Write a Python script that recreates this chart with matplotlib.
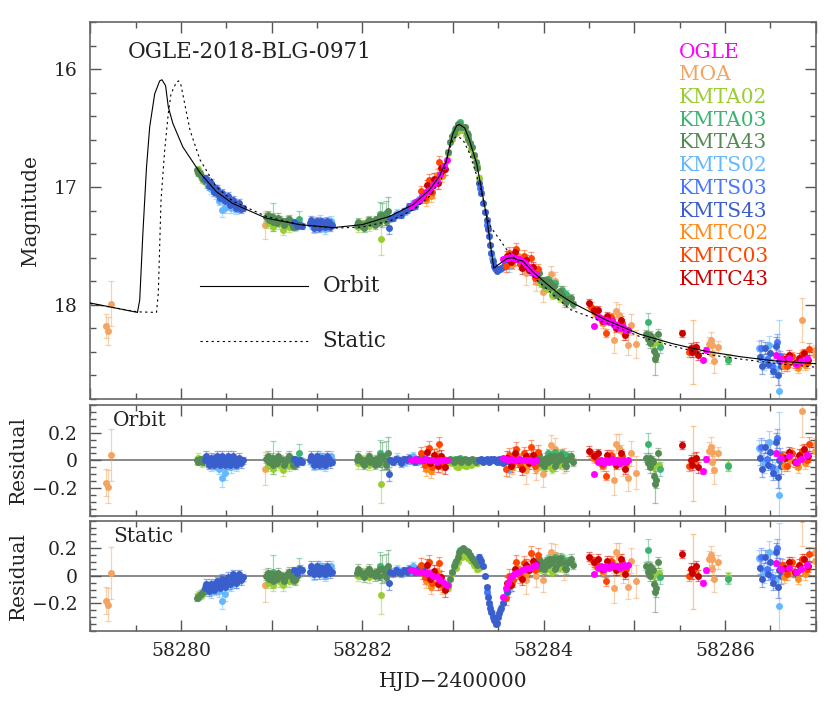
import matplotlib
matplotlib.use("Agg")
import matplotlib.pyplot as plt
from matplotlib.ticker import MultipleLocator, FixedLocator, FuncFormatter
from matplotlib.colors import to_rgba

plt.rcParams["font.family"] = "DejaVu Serif"

# model curves
orbit_t = [58279.00, 58279.52, 58279.545, 58279.58, 58279.62, 58279.655, 58279.71, 58279.765,
           58279.79, 58279.83, 58279.86, 58279.91, 58280.02, 58280.21, 58280.39, 58280.57,
           58280.94, 58281.31, 58281.68, 58282.00, 58282.30, 58282.56, 58282.74, 58282.85,
           58282.93, 58282.96, 58283.00, 58283.04, 58283.07, 58283.13, 58283.18, 58283.26,
           58283.31, 58283.37, 58283.42, 58283.45, 58283.50, 58283.59, 58283.64, 58283.77,
           58283.88, 58284.03, 58284.18, 58284.32, 58284.69, 58285.06, 58285.42, 58285.79,
           58286.16, 58286.53, 58287.00]
orbit_mag = [17.985, 18.065, 17.96, 17.39, 16.83, 16.49, 16.21, 16.10,
             16.09, 16.14, 16.32, 16.46, 16.66, 16.88, 17.04, 17.14,
             17.265, 17.32, 17.345, 17.32, 17.25, 17.15, 17.025, 16.91,
             16.77, 16.66, 16.545, 16.48, 16.47, 16.50, 16.60, 16.80,
             17.00, 17.25, 17.53, 17.69, 17.66, 17.61, 17.60, 17.63,
             17.72, 17.82, 17.915, 17.985, 18.13, 18.25, 18.33, 18.395,
             18.44, 18.475, 18.50]

static_t = [58279.00, 58279.52, 58279.73, 58279.75, 58279.78, 58279.82, 58279.86, 58279.89,
            58279.95, 58279.975, 58280.00, 58280.04, 58280.10, 58280.21, 58280.39, 58280.57,
            58280.94, 58281.31, 58281.68, 58282.00, 58282.30, 58282.56, 58282.74, 58282.89,
            58282.94, 58283.00, 58283.05, 58283.11, 58283.18, 58283.26, 58283.33, 58283.38,
            58283.41, 58283.46, 58283.51, 58283.58, 58283.66, 58283.88, 58284.29, 58284.69,
            58285.06, 58285.42, 58285.79, 58286.16, 58286.53, 58287.00]
static_mag = [17.99, 18.06, 18.065, 17.90, 17.11, 16.69, 16.375, 16.21,
              16.11, 16.10, 16.135, 16.29, 16.52, 16.77, 17.00, 17.12,
              17.25, 17.32, 17.35, 17.34, 17.29, 17.195, 17.08, 16.91,
              16.73, 16.59, 16.57, 16.60, 16.71, 16.90, 17.10, 17.26,
              17.33, 17.39, 17.44, 17.52, 17.59, 17.76, 18.04, 18.155,
              18.27, 18.35, 18.42, 18.46, 18.495, 18.53]

# ---- data: time, magnitude, error, orbit residual, static residual ----
ogle_t = [58282.54, 58282.58, 58282.62, 58282.66, 58282.70, 58282.74, 58282.78, 58282.82,
          58282.86, 58282.90, 58282.93,
          58283.55, 58283.58, 58283.61, 58283.64, 58283.67, 58283.70, 58283.73, 58283.76,
          58283.79, 58283.82, 58283.85, 58283.88, 58283.91,
          58284.56, 58284.60, 58284.63, 58284.66, 58284.69, 58284.72, 58284.75, 58284.78,
          58284.81, 58284.84, 58284.87, 58284.90, 58284.93,
          58285.76, 58285.79,
          58286.56, 58286.62, 58286.71, 58286.78, 58286.84, 58286.90]
ogle_mag = [17.16, 17.13, 17.11, 17.08, 17.04, 17.025, 16.98, 16.95, 16.89, 16.82, 16.77,
            17.61, 17.605, 17.605, 17.59, 17.605, 17.61, 17.61, 17.63, 17.645, 17.67, 17.695,
            17.73, 17.74,
            18.18, 18.105, 18.11, 18.14, 18.13, 18.15, 18.14, 18.17, 18.17, 18.20, 18.19,
            18.21, 18.21,
            18.47, 18.38,
            18.43, 18.46, 18.455, 18.50, 18.48, 18.455]
ogle_err = [0.012] * 37 + [0.02] * 8
ogle_ro = [0.0, 0.01, 0.0, 0.0, 0.01, 0.0, 0.0, -0.01, 0.0, 0.0, 0.0,
           0.02, 0.01, 0.0, 0.01, 0.0, 0.0, 0.01, 0.0, 0.0, 0.0, 0.0, -0.01, 0.0,
           -0.10, -0.01, 0.0, -0.02, 0.0, -0.01, 0.01, -0.01, 0.0, -0.02, 0.0, -0.01, 0.0,
           -0.08, 0.01,
           0.05, 0.02, 0.03, -0.01, 0.01, 0.04]
ogle_rs = [0.04, 0.035, 0.03, 0.025, 0.02, 0.02, 0.0, -0.01, -0.03, -0.05, -0.07,
           -0.15, -0.09, -0.05, -0.01, 0.01, 0.02, 0.03, 0.04, 0.05, 0.055, 0.06, 0.07, 0.08,
           0.015, 0.06, 0.07, 0.05, 0.07, 0.06, 0.08, 0.07, 0.07, 0.06, 0.08, 0.07, 0.08,
           -0.05, 0.04,
           0.09, 0.05, 0.06, 0.03, 0.05, 0.08]

moa_t = [58279.17, 58279.20, 58279.23, 58280.93, 58283.81, 58283.92, 58283.99, 58284.08,
         58284.12, 58284.22, 58284.78, 58284.80, 58284.83, 58284.85, 58284.88, 58284.93,
         58284.96, 58285.02, 58285.82, 58285.84, 58285.86, 58285.86, 58285.88, 58285.92,
         58286.85, 58286.99, 58286.99]
moa_mag = [18.18, 18.22, 17.99, 17.32, 17.73, 17.805, 17.89, 17.74,
           17.80, 17.93, 18.30, 18.05, 18.09, 18.15, 18.23, 18.34,
           18.17, 18.33, 18.33, 18.30, 18.415, 18.345, 18.48, 18.36,
           18.13, 18.38, 18.43]
moa_err = [0.10, 0.12, 0.19, 0.12, 0.10, 0.08, 0.09, 0.07, 0.08, 0.09, 0.11, 0.07, 0.10, 0.08,
           0.07, 0.09, 0.09, 0.12, 0.06, 0.07, 0.08, 0.05, 0.10, 0.05, 0.19, 0.04, 0.04]
moa_ro = [-0.16, -0.19, 0.04, -0.06, -0.07, -0.06, -0.10, 0.11, 0.08, 0.00, -0.14, 0.12, 0.09,
          0.03, -0.04, -0.13, 0.05, -0.09, 0.07, 0.10, -0.01, 0.06, -0.07, 0.05, 0.36, 0.12, 0.07]
moa_rs = [-0.18, -0.21, 0.02, -0.07, -0.03, 0.00, -0.03, 0.17, 0.15, 0.06, -0.09, 0.17, 0.14,
          0.08, 0.02, -0.08, 0.11, -0.04, 0.12, 0.15, 0.05, 0.12, -0.02, 0.10, 0.41, 0.17, 0.11]

kmta02_t = [58280.19, 58280.23, 58280.26, 58280.29, 58280.33,
            58280.96, 58281.02, 58281.08, 58281.13, 58281.19, 58281.26,
            58281.95, 58282.01, 58282.07, 58282.13, 58282.21, 58282.26,
            58282.95, 58282.99, 58283.03, 58283.06, 58283.10, 58283.14, 58283.17, 58283.20,
            58283.23, 58283.26, 58283.29,
            58283.97, 58284.01, 58284.05, 58284.09, 58284.13, 58284.18,
            58285.21, 58285.27, 58286.03]
kmta02_mag = [16.85, 16.935, 16.93, 16.975, 17.005,
              17.308, 17.337, 17.316, 17.364, 17.342, 17.332,
              17.344, 17.308, 17.334, 17.29, 17.441, 17.28,
              16.71, 16.59, 16.54, 16.522, 16.513, 16.56, 16.60, 16.68, 16.735, 16.82, 16.92,
              17.82, 17.856, 17.863, 17.92, 17.903, 17.945,
              18.333, 18.327, 18.46]
kmta02_err = [0.03] * 5 + [0.04] * 6 + [0.04, 0.03, 0.04, 0.03, 0.14, 0.04] + [0.02] * 11 \
    + [0.03] * 6 + [0.04, 0.04, 0.04]
kmta02_ro = [0.02, -0.02, 0.01, -0.01, 0.0,
             -0.04, -0.06, -0.03, -0.07, -0.04, -0.02,
             -0.02, 0.01, -0.03, 0.0, -0.17, -0.02,
             -0.01, -0.02, -0.04, -0.05, -0.03, -0.04, -0.02, -0.03, -0.01, -0.02, 0.0,
             -0.04, -0.05, -0.03, -0.06, -0.02, -0.03,
             -0.05, -0.03, -0.03]
kmta02_rs = [-0.14, -0.13, -0.10, -0.10, -0.07,
             -0.05, -0.07, -0.04, -0.07, -0.04, -0.02,
             0.0, 0.03, -0.01, 0.02, -0.14, 0.0,
             -0.09, 0.02, 0.06, 0.10, 0.14, 0.15, 0.13, 0.11, 0.08, 0.05, 0.06,
             0.05, 0.04, 0.06, 0.03, 0.07, 0.06,
             0.0, 0.02, -0.01]

kmta03_t = [58281.01, 58281.30, 58282.19, 58282.26, 58283.02, 58283.08, 58283.16, 58284.05,
            58284.12, 58284.20, 58284.25, 58285.15, 58285.28, 58286.03]
kmta03_mag = [17.255, 17.27, 17.226, 17.22, 16.505, 16.45, 16.56, 17.783,
              17.817, 17.875, 17.908, 18.15, 18.36, 18.465]
kmta03_err = [0.12, 0.07, 0.10, 0.10, 0.015, 0.015, 0.015, 0.03, 0.03, 0.03, 0.03, 0.08, 0.05, 0.04]
kmta03_ro = [0.02, 0.05, 0.05, 0.04, 0.01, 0.02, 0.0, 0.05, 0.06, 0.05, 0.04, 0.12, -0.06, -0.04]
kmta03_rs = [0.03, 0.06, 0.07, 0.06, 0.09, 0.19, 0.17, 0.12, 0.14, 0.13, 0.11, 0.19, -0.01, -0.02]

kmta43_t = [58280.18, 58280.19, 58280.21, 58280.22, 58280.24, 58280.25, 58280.27, 58280.28,
            58280.30, 58280.32,
            58280.94, 58280.97, 58281.00, 58281.03, 58281.06, 58281.09, 58281.12, 58281.15,
            58281.18, 58281.21, 58281.24, 58281.28,
            58281.94, 58281.97, 58282.00, 58282.03, 58282.06, 58282.09, 58282.12, 58282.15,
            58282.18, 58282.22, 58282.25, 58282.28,
            58282.95, 58282.97, 58282.99, 58283.01, 58283.03, 58283.05, 58283.07, 58283.09,
            58283.11, 58283.13, 58283.15, 58283.17, 58283.19, 58283.21, 58283.23, 58283.25,
            58283.27,
            58283.93, 58283.96, 58283.99, 58284.02, 58284.05, 58284.08, 58284.11, 58284.14,
            58284.17, 58284.20, 58284.23, 58284.26, 58284.29, 58284.32,
            58285.13, 58285.15, 58285.17, 58285.17, 58285.19, 58285.20, 58285.22, 58285.23,
            58285.24, 58285.26,
            58280.955, 58281.015, 58281.075, 58281.135, 58281.195, 58281.255,
            58281.955, 58282.015, 58282.075, 58282.135, 58282.195, 58282.265,
            58283.945, 58284.005, 58284.065, 58284.125, 58284.185, 58284.245, 58284.305]
kmta43_mag = [16.86, 16.88, 16.885, 16.905, 16.93, 16.92, 16.95, 16.95, 16.985, 16.99,
              17.255, 17.28, 17.254, 17.279, 17.303, 17.277, 17.292, 17.306, 17.28, 17.305,
              17.339, 17.315,
              17.325, 17.312, 17.33, 17.313, 17.286, 17.309, 17.292, 17.275, 17.298, 17.239,
              17.262, 17.205,
              16.70, 16.62, 16.57, 16.54, 16.50, 16.467, 16.47, 16.487, 16.49, 16.49, 16.54,
              16.59, 16.625, 16.665, 16.725, 16.785, 16.84,
              17.743, 17.793, 17.793, 17.793, 17.843, 17.853, 17.84, 17.91, 17.91, 17.915,
              17.97, 17.955, 17.95, 17.995,
              18.245, 18.29, 18.324, 18.254, 18.278, 18.29, 18.395, 18.458, 18.43, 18.245,
              17.24, 17.30, 17.26, 17.32, 17.27, 17.33,
              17.30, 17.35, 17.28, 17.32, 17.25, 17.29,
              17.73, 17.83, 17.81, 17.91, 17.88, 17.98, 17.94]
kmta43_err = [0.025] * 10 + [0.03] * 12 \
    + [0.025, 0.025, 0.03, 0.025, 0.03, 0.025, 0.025, 0.03, 0.03, 0.10, 0.03, 0.12] \
    + [0.015] * 17 + [0.03] * 14 \
    + [0.03, 0.04, 0.04, 0.03, 0.03, 0.03, 0.05, 0.14, 0.06, 0.04] + [0.035] * 19
kmta43_ro = [0.0, -0.01, 0.01, 0.0, -0.01, 0.01, 0.0, 0.01, -0.01, 0.0,
             0.01, -0.01, 0.02, 0.0, -0.02, 0.01, 0.0, -0.01, 0.02, 0.0, -0.03, 0.0,
             0.0, 0.01, -0.01, 0.0, 0.02, -0.01, 0.0, 0.01, -0.02, 0.03, 0.0, 0.05,
             0.0, 0.01, 0.0, -0.01, 0.0, 0.01, 0.0, -0.01, 0.0, 0.01, 0.0, -0.01, 0.0, 0.01,
             0.0, -0.01, 0.0,
             0.01, -0.02, 0.0, 0.02, -0.01, 0.0, 0.03, -0.02, 0.0, 0.01, -0.03, 0.0, 0.02, -0.01,
             0.02, -0.02, -0.05, 0.02, 0.0, -0.01, -0.11, -0.17, -0.14, 0.05,
             0.03, -0.03, 0.03, -0.03, 0.03, -0.03,
             0.03, -0.03, 0.03, -0.03, 0.03, -0.03,
             0.04, -0.04, 0.03, -0.04, 0.04, -0.04, 0.03]
kmta43_rs = [-0.16, -0.15, -0.14, -0.13, -0.12, -0.11, -0.10, -0.09, -0.08, -0.07,
             0.0, -0.02, 0.01, -0.01, -0.02, 0.0, 0.0, -0.01, 0.02, 0.0, -0.03, 0.0,
             0.02, 0.03, 0.01, 0.02, 0.04, 0.01, 0.02, 0.03, 0.0, 0.05, 0.02, 0.07,
             -0.07, -0.02, 0.03, 0.07, 0.11, 0.14, 0.17, 0.19, 0.20, 0.19, 0.18, 0.17, 0.15,
             0.13, 0.11, 0.09, 0.08,
             0.08, 0.06, 0.09, 0.11, 0.08, 0.09, 0.12, 0.07, 0.09, 0.10, 0.06, 0.09, 0.11, 0.08,
             0.07, 0.03, 0.0, 0.07, 0.05, 0.04, -0.06, -0.12, -0.09, 0.10,
             0.02, -0.04, 0.02, -0.04, 0.03, -0.03,
             0.05, -0.01, 0.05, 0.0, 0.05, -0.01,
             0.12, 0.05, 0.12, 0.05, 0.13, 0.05, 0.12]

kmts02_t = [58280.30, 58280.36, 58280.42, 58280.45, 58280.48, 58280.52, 58280.58, 58280.64,
            58281.44, 58281.50, 58281.56, 58281.62,
            58282.38, 58282.47, 58282.56, 58282.63,
            58283.43, 58283.62,
            58286.37, 58286.43, 58286.49, 58286.55, 58286.59,
            58280.33, 58280.39, 58280.55, 58280.61, 58281.47, 58281.53, 58281.59, 58281.65]
kmts02_mag = [16.98, 17.005, 17.117, 17.198, 17.175, 17.137, 17.14, 17.18,
              17.33, 17.29, 17.34, 17.30,
              17.22, 17.21, 17.14, 17.11,
              17.60, 17.673,
              18.37, 18.486, 18.341, 18.546, 18.728,
              17.02, 17.06, 17.18, 17.19, 17.35, 17.28, 17.36, 17.29]
kmts02_err = [0.03, 0.03, 0.04, 0.06, 0.05, 0.04, 0.03, 0.03, 0.03, 0.03, 0.03, 0.03,
              0.03, 0.03, 0.03, 0.03, 0.02, 0.05, 0.06, 0.07, 0.08, 0.06, 0.60] + [0.04] * 8
kmts02_ro = [-0.02, 0.01, -0.06, -0.13, -0.09, -0.03, 0.0, -0.02, -0.02, 0.02, -0.03, 0.01,
             0.02, -0.01, 0.03, 0.0, 0.0, -0.07, 0.09, -0.02, 0.13, -0.07, -0.25,
             -0.04, -0.03, -0.05, -0.04, -0.03, 0.03, -0.04, 0.03]
kmts02_rs = [-0.10, -0.06, -0.11, -0.18, -0.13, -0.06, -0.02, -0.03, 0.02, 0.06, 0.02, 0.05,
             0.05, 0.03, 0.07, 0.04, -0.27, -0.10, 0.13, 0.02, 0.17, -0.03, -0.22,
             -0.12, -0.10, -0.07, -0.05, 0.01, 0.07, 0.0, 0.07]

kmts03_t = [58280.40, 58280.55, 58283.30, 58283.38, 58283.46, 58283.52, 58286.40, 58286.46,
            58286.52, 58286.57, 58286.61]
kmts03_mag = [17.045, 17.135, 17.01, 17.32, 17.69, 17.70, 18.363, 18.458, 18.524, 18.317, 18.439]
kmts03_err = [0.025, 0.025, 0.015, 0.015, 0.015, 0.015, 0.06, 0.05, 0.06, 0.07, 0.05]
kmts03_ro = [0.01, -0.01, 0.0, 0.0, 0.0, -0.01, 0.10, 0.01, -0.05, 0.16, 0.04]
kmts03_rs = [-0.06, -0.03, 0.12, -0.12, -0.33, -0.25, 0.14, 0.05, -0.01, 0.20, 0.08]

kmts43_t = [58280.26, 58280.29, 58280.32, 58280.35, 58280.38, 58280.41, 58280.44, 58280.47,
            58280.50, 58280.53, 58280.56, 58280.59, 58280.62, 58280.65, 58280.68,
            58281.25, 58281.28, 58281.31, 58281.34, 58281.42, 58281.45, 58281.48, 58281.51,
            58281.54, 58281.57, 58281.60, 58281.63, 58281.66,
            58282.29, 58282.31, 58282.34, 58282.37, 58282.40, 58282.43, 58282.46, 58282.49,
            58282.52, 58282.55, 58282.58, 58282.61, 58282.64, 58282.67,
            58283.29, 58283.31, 58283.33, 58283.35, 58283.37, 58283.39, 58283.40, 58283.41,
            58283.42, 58283.44, 58283.45, 58283.47, 58283.48, 58283.50, 58283.51, 58283.53,
            58283.55, 58283.57, 58283.59, 58283.61, 58283.63, 58283.65,
            58286.38, 58286.41, 58286.44, 58286.47, 58286.50, 58286.53, 58286.56, 58286.58,
            58286.60, 58286.62,
            58280.275, 58280.305, 58280.335, 58280.365, 58280.395, 58280.425, 58280.455,
            58280.485, 58280.515, 58280.545, 58280.575, 58280.605, 58280.635, 58280.665,
            58281.435, 58281.465, 58281.495, 58281.525, 58281.555, 58281.585, 58281.615,
            58281.645]
kmts43_mag = [16.925, 16.94, 16.988, 17.005, 17.01, 17.06, 17.068, 17.105, 17.09, 17.118,
              17.145, 17.137, 17.157, 17.177, 17.177,
              17.30, 17.335, 17.32, 17.33, 17.31, 17.30, 17.325, 17.31, 17.29, 17.32, 17.31,
              17.30, 17.325,
              17.35, 17.265, 17.265, 17.235, 17.23, 17.24, 17.20, 17.195, 17.165, 17.17, 17.16,
              17.12, 17.11, 17.07,
              16.97, 17.05, 17.14, 17.21, 17.28, 17.36, 17.42, 17.49, 17.56, 17.63, 17.675,
              17.70, 17.71, 17.70, 17.70, 17.69, 17.68, 17.655, 17.63, 17.615, 17.605, 17.60,
              18.44, 18.524, 18.367, 18.499, 18.412, 18.565, 18.347, 18.598, 18.479, 18.52,
              16.93, 16.99, 16.97, 17.04, 17.02, 17.09, 17.05, 17.12, 17.08, 17.15, 17.11,
              17.18, 17.14, 17.19,
              17.28, 17.35, 17.29, 17.35, 17.30, 17.34, 17.29, 17.34]
kmts43_err = [0.025] * 15 + [0.025] * 13 + [0.05] + [0.025] * 13 + [0.015] * 22 \
    + [0.05, 0.06, 0.05, 0.04, 0.06, 0.05, 0.07, 0.08, 0.05, 0.06] + [0.035] * 22
kmts43_ro = [0.0, 0.01, -0.01, 0.0, 0.02, -0.01, 0.0, -0.02, 0.01, 0.0, -0.01, 0.01, 0.0,
             -0.01, 0.0,
             0.01, -0.02, 0.0, -0.01, 0.0, 0.01, -0.01, 0.0, 0.02, -0.01, 0.0, 0.01, -0.01,
             -0.10, 0.0, -0.01, 0.01, 0.0, -0.02, 0.01, 0.0, 0.02, 0.0, -0.01, 0.01, 0.0, 0.02,
             0.0, 0.01, -0.01, 0.0, 0.01, 0.0, -0.01, 0.0, 0.01, 0.0, 0.01, 0.0, -0.01, 0.0,
             0.01, 0.0, -0.02, 0.0, 0.01, 0.0, -0.01, 0.0,
             0.02, -0.06, 0.10, -0.03, 0.06, -0.09, 0.13, -0.12, 0.0, -0.04,
             0.03, -0.03, 0.02, -0.03, 0.03, -0.03, 0.03, -0.03, 0.03, -0.03, 0.03, -0.03,
             0.02, -0.02,
             0.03, -0.03, 0.03, -0.03, 0.02, -0.03, 0.03, -0.02]
kmts43_rs = [-0.09, -0.085, -0.08, -0.07, -0.06, -0.06, -0.05, -0.05, -0.04, -0.03, -0.03,
             -0.02, -0.02, -0.01, -0.01,
             0.04, 0.02, 0.05, 0.04, 0.03, 0.04, 0.03, 0.04, 0.06, 0.03, 0.04, 0.05, 0.03,
             -0.05, 0.03, 0.02, 0.04, 0.03, 0.02, 0.04, 0.03, 0.05, 0.04, 0.03, 0.05, 0.04, 0.06,
             0.14, 0.11, 0.07, 0.0, -0.08, -0.15, -0.20, -0.23, -0.26, -0.30, -0.32, -0.35,
             -0.34, -0.30, -0.27, -0.23, -0.20, -0.16, -0.12, -0.08, -0.03, 0.0,
             0.06, -0.02, 0.14, 0.01, 0.10, -0.05, 0.17, -0.08, 0.04, 0.0,
             -0.06, -0.11, -0.06, -0.10, -0.04, -0.09, -0.02, -0.08, -0.01, -0.06, 0.01,
             -0.05, 0.01, -0.03,
             0.07, 0.01, 0.07, 0.01, 0.06, 0.01, 0.07, 0.02]

kmtc02_t = [58282.70, 58282.76, 58282.82, 58282.88, 58283.65, 58283.72, 58283.80, 58283.88,
            58284.55, 58284.65, 58284.75, 58284.85, 58285.65, 58286.65, 58286.72, 58286.80,
            58286.88]
kmtc02_mag = [17.11, 17.08, 16.90, 16.91, 17.65, 17.585, 17.69, 17.70,
              18.056, 18.155, 18.12, 18.203, 18.40, 18.521, 18.486, 18.54, 18.513]
kmtc02_err = [0.05] * 8 + [0.04] * 4 + [0.27] + [0.04] * 4
kmtc02_ro = [-0.06, -0.08, 0.04, -0.04, -0.05, 0.03, -0.04, 0.02,
             0.02, -0.04, 0.03, -0.02, -0.02, -0.04, 0.0, -0.05, -0.02]
kmtc02_rs = [-0.04, -0.08, 0.03, -0.08, -0.06, 0.05, 0.01, 0.09,
             0.09, 0.03, 0.10, 0.05, 0.03, -0.01, 0.03, -0.02, 0.01]

kmtc03_t = [58282.65, 58282.69, 58282.73, 58282.77, 58282.81, 58282.85, 58282.89,
            58283.58, 58283.62, 58283.66, 58283.70, 58283.74, 58283.78, 58283.82, 58283.86,
            58283.90, 58283.94,
            58284.52, 58284.58, 58284.64, 58284.69, 58284.74, 58284.80, 58284.86, 58284.91,
            58285.60, 58285.66,
            58286.63, 58286.68, 58286.74, 58286.79, 58286.85, 58286.90, 58286.93]
kmtc03_mag = [17.038, 17.09, 16.94, 17.04, 16.93, 16.79, 16.855,
              17.675, 17.563, 17.62, 17.53, 17.65, 17.585, 17.67, 17.60, 17.775, 17.70,
              18.015, 18.07, 18.14, 18.24, 18.107, 18.176, 18.156, 18.223,
              18.405, 18.37,
              18.451, 18.524, 18.437, 18.51, 18.422, 18.495, 18.377]
kmtc03_err = [0.05] * 17 + [0.035] * 8 + [0.04] * 2 + [0.04] * 6 + [0.05]
kmtc03_ro = [0.05, -0.03, 0.09, -0.05, 0.02, 0.12, -0.02,
             -0.06, 0.04, -0.02, 0.08, -0.03, 0.05, 0.0, 0.10, -0.04, 0.06,
             0.05, 0.02, -0.03, -0.11, 0.04, -0.01, 0.03, -0.02,
             -0.04, 0.01,
             0.03, -0.04, 0.05, -0.02, 0.07, 0.0, 0.12]
kmtc03_rs = [0.08, -0.01, 0.10, -0.05, 0.01, 0.09, -0.07,
             -0.16, 0.0, -0.03, 0.10, 0.0, 0.095, 0.055, 0.165, 0.04, 0.15,
             0.12, 0.09, 0.04, -0.04, 0.11, 0.06, 0.10, 0.05,
             0.0, 0.05,
             0.08, 0.01, 0.10, 0.03, 0.12, 0.05, 0.16]

kmtc43_t = [58282.67, 58282.71, 58282.75, 58282.79, 58282.83, 58282.87, 58282.91,
            58283.60, 58283.64, 58283.68, 58283.72, 58283.76, 58283.80, 58283.84, 58283.88,
            58283.92,
            58284.50, 58284.55, 58284.60, 58284.65, 58284.70, 58284.75, 58284.80, 58284.85,
            58284.90,
            58285.53, 58285.62, 58285.64, 58285.68, 58285.70,
            58286.66, 58286.71, 58286.77, 58286.82, 58286.87, 58286.91]
kmtc43_mag = [17.074, 16.985, 17.033, 16.93, 16.97, 16.84, 16.85,
              17.588, 17.64, 17.555, 17.615, 17.69, 17.62, 17.705, 17.68, 17.746,
              17.987, 18.046, 18.046, 18.135, 18.093, 18.14, 18.196, 18.133, 18.26,
              18.24, 18.365, 18.40, 18.355, 18.43,
              18.462, 18.425, 18.498, 18.45, 18.413, 18.465]
kmtc43_err = [0.045] * 16 + [0.035] * 9 + [0.03, 0.04, 0.04, 0.04, 0.04] + [0.04] * 6
kmtc43_ro = [0.0, 0.06, -0.02, 0.04, -0.04, 0.03, -0.05,
             0.02, -0.04, 0.05, 0.0, -0.06, 0.03, -0.02, 0.04, 0.0,
             0.07, 0.03, 0.05, -0.02, 0.04, 0.01, -0.03, 0.05, -0.06,
             0.11, 0.0, -0.03, 0.02, -0.05,
             0.02, 0.06, -0.01, 0.04, 0.08, 0.03]
kmtc43_rs = [0.025, 0.075, -0.02, 0.035, -0.06, -0.01, -0.105,
             -0.05, -0.065, 0.05, 0.025, -0.02, 0.08, 0.04, 0.11, 0.085,
             0.14, 0.10, 0.12, 0.05, 0.11, 0.08, 0.04, 0.12, 0.01,
             0.16, 0.05, 0.02, 0.07, 0.0,
             0.06, 0.10, 0.03, 0.08, 0.12, 0.07]

names = ["OGLE", "MOA", "KMTA02", "KMTA03", "KMTA43", "KMTS02", "KMTS03", "KMTS43",
         "KMTC02", "KMTC03", "KMTC43"]
colors = ["#FF00FF", "#F4A460", "#9ACD32", "#3CB371", "#548B54", "#63B8FF", "#4876FF",
          "#3A5FCD", "#FF8C1A", "#FF4500", "#CD0000"]

sets = {
    "OGLE": (ogle_t, ogle_mag, ogle_err, ogle_ro, ogle_rs),
    "MOA": (moa_t, moa_mag, moa_err, moa_ro, moa_rs),
    "KMTA02": (kmta02_t, kmta02_mag, kmta02_err, kmta02_ro, kmta02_rs),
    "KMTA03": (kmta03_t, kmta03_mag, kmta03_err, kmta03_ro, kmta03_rs),
    "KMTA43": (kmta43_t, kmta43_mag, kmta43_err, kmta43_ro, kmta43_rs),
    "KMTS02": (kmts02_t, kmts02_mag, kmts02_err, kmts02_ro, kmts02_rs),
    "KMTS03": (kmts03_t, kmts03_mag, kmts03_err, kmts03_ro, kmts03_rs),
    "KMTS43": (kmts43_t, kmts43_mag, kmts43_err, kmts43_ro, kmts43_rs),
    "KMTC02": (kmtc02_t, kmtc02_mag, kmtc02_err, kmtc02_ro, kmtc02_rs),
    "KMTC03": (kmtc03_t, kmtc03_mag, kmtc03_err, kmtc03_ro, kmtc03_rs),
    "KMTC43": (kmtc43_t, kmtc43_mag, kmtc43_err, kmtc43_ro, kmtc43_rs),
}
draw_order = ["MOA", "KMTA02", "KMTA03", "KMTA43", "KMTS02", "KMTS03", "KMTS43",
              "KMTC02", "KMTC03", "KMTC43", "OGLE"]

fig = plt.figure(figsize=(8.3, 7.01), dpi=100)
ax = fig.add_axes([0.1088, 0.4308, 0.874, 0.5378])
ax1 = fig.add_axes([0.1088, 0.2643, 0.874, 0.1579])
ax2 = fig.add_axes([0.1088, 0.0999, 0.874, 0.1573])


def points(a, t, y, e, c):
    a.errorbar(t, y, yerr=e, fmt="o", ms=5.0, mfc=c, mec="none",
               ecolor=to_rgba(c, 0.5), elinewidth=0.9, capsize=2.2, capthick=0.9, zorder=2)


for n in draw_order:
    c = colors[names.index(n)]
    t, m, e, ro, rs = sets[n]
    points(ax, t, m, e, c)
    points(ax1, t, ro, e, c)
    points(ax2, t, rs, e, c)

ax.plot(orbit_t, orbit_mag, color="black", lw=0.8, zorder=5)
ax.plot(static_t, static_mag, color="black", lw=0.8, ls=(0, (2, 3)), zorder=5)

# small legend for the model lines
ax.plot([58280.21, 58281.40], [17.84, 17.84], color="black", lw=0.8)
ax.plot([58280.21, 58281.40], [18.31, 18.31], color="black", lw=0.8, ls=(0, (2, 3)))
ax.text(58281.56, 17.84, "Orbit", fontsize=15.5, va="center", ha="left", color="#222222")
ax.text(58281.56, 18.31, "Static", fontsize=15.5, va="center", ha="left", color="#222222")

ax.text(0.052, 0.92, "OGLE-2018-BLG-0971", transform=ax.transAxes, fontsize=15.5,
        va="center", ha="left", color="#222222")
for i, (n, c) in enumerate(zip(names, colors)):
    ax.text(0.812, 0.92 - i * 0.0602, n, transform=ax.transAxes, fontsize=14.5,
            va="center", ha="left", color=c)

for a in (ax1, ax2):
    a.axhline(0, color="#808080", lw=1.3, zorder=1)
ax1.text(0.031, 0.857, "Orbit", transform=ax1.transAxes, fontsize=14.5, va="center",
         color="#222222")
ax2.text(0.031, 0.855, "Static", transform=ax2.transAxes, fontsize=14.5, va="center",
         color="#222222")


def even_days(v, pos):
    return f"{v:.0f}" if int(round(v)) % 2 == 0 else ""


def resid_fmt(v, pos):
    if abs(v) < 1e-9:
        return "0"
    return f"{v:.1f}".replace("-", "\u2212")


for a in (ax, ax1, ax2):
    a.set_xlim(58279, 58287)
    a.xaxis.set_major_locator(MultipleLocator(1))
    a.xaxis.set_minor_locator(MultipleLocator(0.5))
    a.tick_params(which="both", direction="in", top=True, right=True, color="#555555",
                  labelcolor="#222222", labelsize=13.5)
    a.tick_params(which="major", length=8, width=1.0)
    a.tick_params(which="minor", length=4.5, width=1.0)
    a.tick_params(axis="y", pad=9)
    a.tick_params(axis="x", pad=8)
    for s in a.spines.values():
        s.set_color("#666666")
        s.set_linewidth(1.2)

ax.set_ylim(18.8, 15.6)
ax.yaxis.set_major_locator(FixedLocator([16, 17, 18]))
ax.yaxis.set_minor_locator(MultipleLocator(0.2))
ax.tick_params(labelbottom=False)
ax1.tick_params(labelbottom=False)
ax.set_ylabel("Magnitude", fontsize=14.5, color="#222222")
ax.yaxis.set_label_coords(-0.070, 0.5)

for a in (ax1, ax2):
    a.set_ylim(-0.4, 0.4)
    a.yaxis.set_major_locator(FixedLocator([-0.2, 0, 0.2]))
    a.yaxis.set_minor_locator(MultipleLocator(0.05))
    a.yaxis.set_major_formatter(FuncFormatter(resid_fmt))
    a.set_ylabel("Residual", fontsize=14.5, color="#222222")
    a.yaxis.set_label_coords(-0.0855, 0.5)

ax2.xaxis.set_major_formatter(FuncFormatter(even_days))
ax2.set_xlabel("HJD\u22122400000", fontsize=14.5, color="#222222")
ax2.xaxis.set_label_coords(0.5, -0.37)

fig.savefig("out.png", dpi=100)
